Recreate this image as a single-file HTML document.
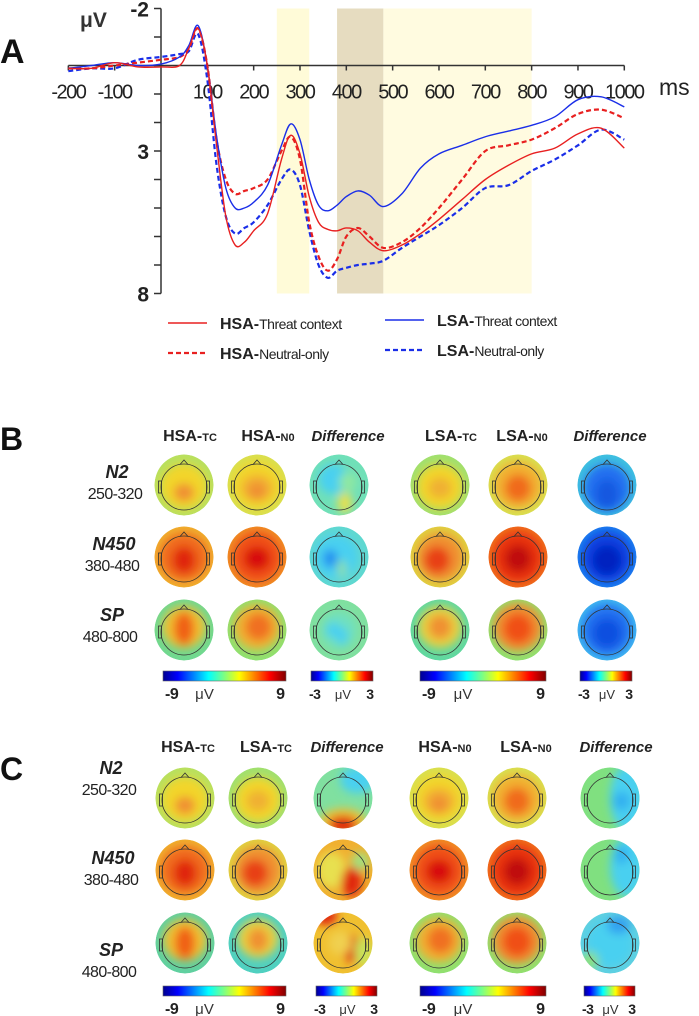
<!DOCTYPE html>
<html><head><meta charset="utf-8"><style>
html,body{margin:0;padding:0;background:#fff;}
svg{display:block;font-family:"Liberation Sans",sans-serif;}
</style></head><body>
<svg id="fig" width="699" height="1016" viewBox="0 0 699 1016" xmlns="http://www.w3.org/2000/svg">
<defs>
<filter id="blur" x="-50%" y="-50%" width="200%" height="200%"><feGaussianBlur stdDeviation="4.5"/></filter>
<linearGradient id="jet" x1="0" x2="1" y1="0" y2="0">
<stop offset="0" stop-color="#00008f"/><stop offset="0.12" stop-color="#0000ff"/><stop offset="0.37" stop-color="#00ffff"/><stop offset="0.5" stop-color="#80ff80"/><stop offset="0.62" stop-color="#ffff00"/><stop offset="0.87" stop-color="#ff0000"/><stop offset="1" stop-color="#800000"/>
</linearGradient>
</defs>
<g id="panelA"></g>
<g id="panelB"></g>
<g id="panelC"></g>
</svg>
<script>
const times=[-200,-150,-100,-50,0,40,60,80,100,120,140,160,180,200,230,260,280,300,320,340,360,380,400,425,450,480,520,560,600,650,700,750,800,850,900,950,1000];
const hsaTC=[0.1,0.1,-0.1,0.05,0.05,0,-0.6,-1.3,0,2.8,5.3,6.3,6.2,5.8,5.2,3.3,2.45,3.1,4.6,5.5,5.75,5.8,5.7,5.8,6.2,6.5,6.3,5.9,5.4,4.7,4.0,3.5,3.1,2.9,2.4,2.2,2.9];
const hsaNO=[0.1,0.1,0,-0.1,-0.2,-0.3,-0.6,-1.3,0,2.6,4.0,4.5,4.4,4.3,4.0,3.0,2.5,3.3,5.5,6.7,7.2,6.8,6.0,5.7,6.0,6.4,6.2,5.7,5.0,4.0,3.0,2.8,2.6,2.2,1.7,1.55,1.85];
const lsaTC=[0.1,0,-0.1,0,-0.05,-0.3,-0.7,-1.4,0,2.5,4.3,5.0,5.0,4.8,4.2,2.8,2.05,2.6,4.0,4.9,5.1,4.9,4.6,4.4,4.55,4.95,4.5,3.6,3.1,2.8,2.5,2.3,2.1,1.8,1.2,1.1,1.45];
const lsaNO=[0.2,0.1,0.1,-0.2,-0.3,-0.4,-0.5,-1.1,0.5,3.5,5.3,5.9,5.7,5.5,4.9,4.0,3.65,4.2,5.8,7.0,7.45,7.2,7.1,7.0,6.95,6.85,6.4,6.0,5.6,5.0,4.3,4.2,3.7,3.3,2.8,2.25,2.6];
const xTicks=[-200,-100,100,200,300,400,500,600,700,800,900,1000];
const yLabels=[-2,3,8];
const windows=[[250,320,"#fffbd8"],[380,480,"#e6dcc0"],[480,800,"#fffbe0"]];

const NS="http://www.w3.org/2000/svg";
function mk(tag,attrs,parent){const e=document.createElementNS(NS,tag);for(const k in attrs)e.setAttribute(k,attrs[k]);if(parent)parent.appendChild(e);return e;}
const X=t=>161+t*0.4633;
const Y=v=>65.5+v*28.5;
const A=document.getElementById('panelA');

windows.forEach(w=>{const r=mk('rect',{x:X(w[0]),y:Y(-2),width:X(w[1])-X(w[0]),height:Y(8)-Y(-2),fill:w[2]},A);

});

const ax=mk('g',{stroke:'#333','stroke-width':1.5},A);


mk('line',{x1:X(-200),x2:X(1000),y1:Y(0),y2:Y(0)},ax);
mk('line',{x1:X(0),x2:X(0),y1:Y(-2),y2:Y(8)},ax);
for(let v=-2;v<=8;v++)mk('line',{x1:X(0)-7,x2:X(0),y1:Y(v),y2:Y(v)},ax);
xTicks.forEach(t=>{mk('line',{x1:X(t),x2:X(t),y1:Y(0),y2:Y(0)+5},ax);
const tx=mk('text',{x:X(t),y:Y(0)+33,'text-anchor':'middle','font-size':20,fill:'#222','letter-spacing':-1.5,stroke:'none'},A);tx.textContent=t;

});
yLabels.forEach(v=>{const tx=mk('text',{x:X(0)-12,y:Y(v)+8,'text-anchor':'end','font-size':21,'font-weight':'bold',fill:'#222'},A);tx.textContent=v;

});
let t1=mk('text',{x:80,y:27,'font-size':21,'font-weight':'bold',fill:'#333'},A);t1.textContent='μV';


let t2=mk('text',{x:659,y:95,'font-size':23,fill:'#222'},A);t2.textContent='ms';


let t3=mk('text',{x:0,y:63,'font-size':34,'font-weight':'bold',fill:'#111'},A);t3.textContent='A';



function smooth(vals){const p=times.map((t,i)=>[X(t),Y(vals[i])]);let d='M'+p[0][0]+','+p[0][1];
for(let i=0;i<p.length-1;i++){const p0=p[Math.max(i-1,0)],p1=p[i],p2=p[i+1],p3=p[Math.min(i+2,p.length-1)];
d+=` C${p1[0]+(p2[0]-p0[0])/6},${p1[1]+(p2[1]-p0[1])/6} ${p2[0]-(p3[0]-p1[0])/6},${p2[1]-(p3[1]-p1[1])/6} ${p2[0]},${p2[1]}`;}return d;}
const series=[[lsaNO,'#1a2ee8','5,3','lsa-neutral-only-line'],[hsaNO,'#e82020','5,3','hsa-neutral-only-line'],[lsaTC,'#1a2ee8','','lsa-threat-context-line'],[hsaTC,'#e82020','','hsa-threat-context-line']];
series.forEach(s=>{const p=mk('path',{d:smooth(s[0]),fill:'none',stroke:s[1],'stroke-width':s[2]?2.2:1.4,'stroke-dasharray':s[2]},A);

});

const leg=[[168,323,'#e82020','','Threat context','HSA-'],[385,320,'#1a2ee8','','Threat context','LSA-'],[168,353,'#e82020','5,3','Neutral-only','HSA-'],[385,350,'#1a2ee8','5,3','Neutral-only','LSA-']];
leg.forEach(l=>{const g=mk('g',{},A);


mk('line',{x1:l[0],x2:l[0]+39,y1:l[1],y2:l[1],stroke:l[2],'stroke-width':l[3]?2.2:1.4,'stroke-dasharray':l[3]},g);
const tx=mk('text',{x:l[0]+52,y:l[1]+6,'font-size':15,fill:'#222'},g);
const a=mk('tspan',{'font-weight':'bold','font-size':16},tx);a.textContent=l[5];
const b=mk('tspan',{'font-size':14,'letter-spacing':-0.5},tx);b.textContent=l[4];});

let uid=0;
function topo(parent,cx,cy,base,blobs,name){const g=mk('g',{},parent);


const id='c'+(uid++);const cp=mk('clipPath',{id:id},g);mk('ellipse',{cx:cx,cy:cy,rx:29.5,ry:30.5},cp);
const inner=mk('g',{'clip-path':`url(#${id})`},g);
mk('ellipse',{cx:cx,cy:cy,rx:29.5,ry:30.5,fill:base},inner);
const bg=mk('g',{filter:'url(#blur)'},inner);
blobs.forEach(b=>mk('ellipse',{cx:cx+b[0]*29,cy:cy+b[1]*30,rx:b[2]*29,ry:b[3]*30,fill:b[4]},bg));
const h=mk('g',{fill:'none',stroke:'#333','stroke-width':0.8},g);
mk('circle',{cx:cx,cy:cy+2,r:23},h);
mk('path',{d:`M${cx-4},${cy-20.5} L${cx},${cy-25} L${cx+4},${cy-20.5}`},h);
mk('rect',{x:cx-25.5,y:cy-4,width:3,height:12},h);mk('rect',{x:cx+22.5,y:cy-4,width:3,height:12},h);
}
const Y1='#f2d52c',O='#f09030',OR='#f06a1c',R='#e02810',DR='#c00c08',G='#8ee07a',YG='#c8e45a',C='#48d0f0',CG='#70e0b8',B='#2070f0',DB='#0830d0';
const mapsB=[
[['#b8e060',[[0,0.05,0.8,0.75,Y1],[0,0.25,0.35,0.3,O]]],['#d8e050',[[0,0,0.85,0.8,Y1],[0,0.1,0.55,0.45,'#f2b030'],[0,0.2,0.3,0.3,O]]],[CG,[[-0.2,-0.2,0.5,0.5,C],[0.2,0.6,0.25,0.35,'#e8e050'],[0.3,-0.1,0.3,0.3,'#90e8a0']]],['#a0e070',[[0,0.05,0.8,0.75,Y1],[0,0.1,0.4,0.35,'#f0b030']]],['#d8e050',[[0,0,0.85,0.8,'#f2b030'],[0,0.1,0.45,0.45,OR]]],['#40c0e0',[[0,0.1,0.8,0.8,B],[0,0.3,0.4,0.5,'#1858e0']]]],
[['#f0b030',[[0,0,0.85,0.8,OR],[0,0.1,0.4,0.45,R]]],['#f09028',[[0,0,0.85,0.85,'#f05018'],[0,0.05,0.45,0.4,'#d81010']]],['#60d8d0',[[-0.1,0,0.75,0.75,C],[-0.3,0.05,0.25,0.3,'#2090f0'],[0.1,0.4,0.15,0.3,'#90e0a0']]],['#e0d040',[[0,0,0.8,0.8,O],[-0.1,0.1,0.45,0.45,'#e84018']]],['#f07020',[[0,0,0.85,0.85,'#e83010'],[0,0.05,0.45,0.45,DR]]],['#2080f0',[[0,0,0.85,0.85,'#1040e0'],[0,0.1,0.5,0.5,'#0020c0']]]],
[['#70d890',[[0,-0.1,0.75,0.7,'#f0c030'],[0,-0.05,0.35,0.55,'#f06018']]],['#90e070',[[0,-0.1,0.8,0.75,'#f0b030'],[0.05,-0.1,0.45,0.45,'#f07020']]],['#80e0a0',[[0,0,0.6,0.6,'#70e0c0'],[-0.2,0,0.25,0.25,C],[0.1,0.2,0.2,0.3,C]]],['#60d8a0',[[0,-0.1,0.75,0.7,'#e8d040'],[0,-0.1,0.4,0.4,O]]],['#90e070',[[0,-0.1,0.85,0.8,O],[0,-0.05,0.5,0.5,'#f05018']]],['#40b8f0',[[0,0,0.85,0.85,B],[0,0.1,0.5,0.5,'#1050e0']]]]];
const mapsC=[
[mapsB[0][0],mapsB[0][3],['#80e0a0',[[0.5,-0.6,0.6,0.45,C],[0,0.8,0.8,0.45,'#f0c030'],[0,0.9,0.5,0.3,R]]],mapsB[0][1],mapsB[0][4],['#80e080',[[0.6,0,0.6,1.1,C],[0.4,0.1,0.3,0.3,'#30b0f0']]]],
[mapsB[1][0],mapsB[1][3],['#f0b030',[[-0.4,0,0.5,0.6,'#e8e050'],[0.3,0.4,0.35,0.5,R],[0.6,-0.3,0.3,0.3,'#a0e080']]],mapsB[1][1],mapsB[1][4],['#80e080',[[0.6,-0.1,0.6,1.0,C],[0.4,-0.5,0.25,0.3,'#30b0f0']]]],
[['#60d0a0',[[0,-0.1,0.75,0.7,'#f0c030'],[0,0,0.35,0.55,'#f06018']]],['#50d0c0',[[0,-0.15,0.7,0.65,'#e8d040'],[0,-0.1,0.35,0.4,O]]],['#f0c030',[[-0.6,-0.9,0.4,0.3,R],[0.3,0.2,0.3,0.45,R],[-0.1,0,0.4,0.4,'#f0d050'],[0.7,0.3,0.3,0.5,YG]]],mapsB[2][1],mapsB[2][4],['#60d0e0',[[0,0,0.8,0.8,C],[0.3,-0.6,0.4,0.3,'#30a0f0'],[-0.7,0.6,0.3,0.3,G]]]]];
const colB=[184,257,339,440,518,607],rowB=[485,557,630];
const colC=[185,258,343,439,517,610],rowC=[798,870,943];
const rowNames=['n2','n450','sp'];
function panel(P,cols,rows,maps,tag){rows.forEach((ry,ri)=>cols.forEach((cx,ci)=>topo(P,cx,ry,maps[ri][ci][0],maps[ri][ci][1],`topomap-${tag}-${rowNames[ri]}-col${ci+1}`)));}
const PB=document.getElementById('panelB'),PC=document.getElementById('panelC');
panel(PB,colB,rowB,mapsB,'b');panel(PC,colC,rowC,mapsC,'c');

function txt(P,x,y,s,attrs,name){const t=mk('text',Object.assign({x:x,y:y,fill:'#222'},attrs),P);t.textContent=s;

return t;}
function header(P,x,y,a,b,name){const t=mk('text',{x:x,y:y,'text-anchor':'middle',fill:'#222'},P);


const s1=mk('tspan',{'font-size':16,'font-weight':'bold'},t);s1.textContent=a;const s2=mk('tspan',{'font-size':11,'font-weight':'bold'},t);s2.textContent=b;}
function diff(P,x,y){txt(P,x,y,'Difference',{'text-anchor':'middle','font-size':15,'font-weight':'bold','font-style':'italic'},'difference-header');}
txt(PB,0,450,'B',{'font-size':32,'font-weight':'bold',fill:'#111'},'panel-label-b');
header(PB,190,441,'HSA-','TC','header-hsa-tc');header(PB,268,441,'HSA-','N0','header-hsa-n0');diff(PB,348,441);
header(PB,451,441,'LSA-','TC','header-lsa-tc');header(PB,522,441,'LSA-','N0','header-lsa-n0');diff(PB,610,441);
txt(PC,0,780,'C',{'font-size':32,'font-weight':'bold',fill:'#111'},'panel-label-c');
header(PC,188,752,'HSA-','TC','header-hsa-tc');header(PC,266,752,'LSA-','TC','header-lsa-tc');diff(PC,347,752);
header(PC,445,752,'HSA-','N0','header-hsa-n0');header(PC,526,752,'LSA-','N0','header-lsa-n0');diff(PC,616,752);
const rowLab=[['N2','250-320'],['N450','380-480'],['SP','480-800']];
function rowLabels(P,ys,offs){ys.forEach((y,i)=>{txt(P,offs[i],y-2,rowLab[i][0],{'text-anchor':'middle','font-size':18,'font-weight':'bold','font-style':'italic'},'row-label-'+rowNames[i]);
txt(P,offs[i]-2,y+19,rowLab[i][1],{'text-anchor':'middle','font-size':16,'letter-spacing':-0.6},'time-range-'+rowNames[i]);});}
rowLabels(PB,[480,552,623],[117,114,112]);
rowLabels(PC,[776,866,958],[111,113,111]);
function cbar(P,x1,x2,y,lo,hi,name){const g=mk('g',{},P);


const wide=x2-x1>80;
mk('rect',{x:x1,y:y,width:x2-x1,height:10,fill:'url(#jet)',stroke:'#666','stroke-width':0.6},g);
const fs=wide?16:14;
const a=mk('text',{x:wide?x1+2:x1-2,y:y+28,'font-size':fs,'font-weight':'bold',fill:'#222','letter-spacing':-0.5},g);a.textContent=lo;
const b=mk('text',{x:wide?x2-1:x2+1,y:y+28,'text-anchor':'end','font-size':fs,'font-weight':'bold',fill:'#222'},g);b.textContent=hi;
const m=mk('text',{x:wide?(x1+x2)/2-20:(x1+x2)/2+1,y:y+28,'text-anchor':'middle','font-size':wide?15:13,fill:'#333'},g);m.textContent='μV';}
cbar(PB,163,286,671,'-9','9','colorbar-hsa');cbar(PB,311,373,671,'-3','3','colorbar-diff-hsa');cbar(PB,420,546,671,'-9','9','colorbar-lsa');cbar(PB,580,632,671,'-3','3','colorbar-diff-lsa');
cbar(PC,163,286,986,'-9','9','colorbar-tc');cbar(PC,316,377,986,'-3','3','colorbar-diff-tc');cbar(PC,420,546,986,'-9','9','colorbar-n0');cbar(PC,584,635,986,'-3','3','colorbar-diff-n0');
</script>
</body></html>
